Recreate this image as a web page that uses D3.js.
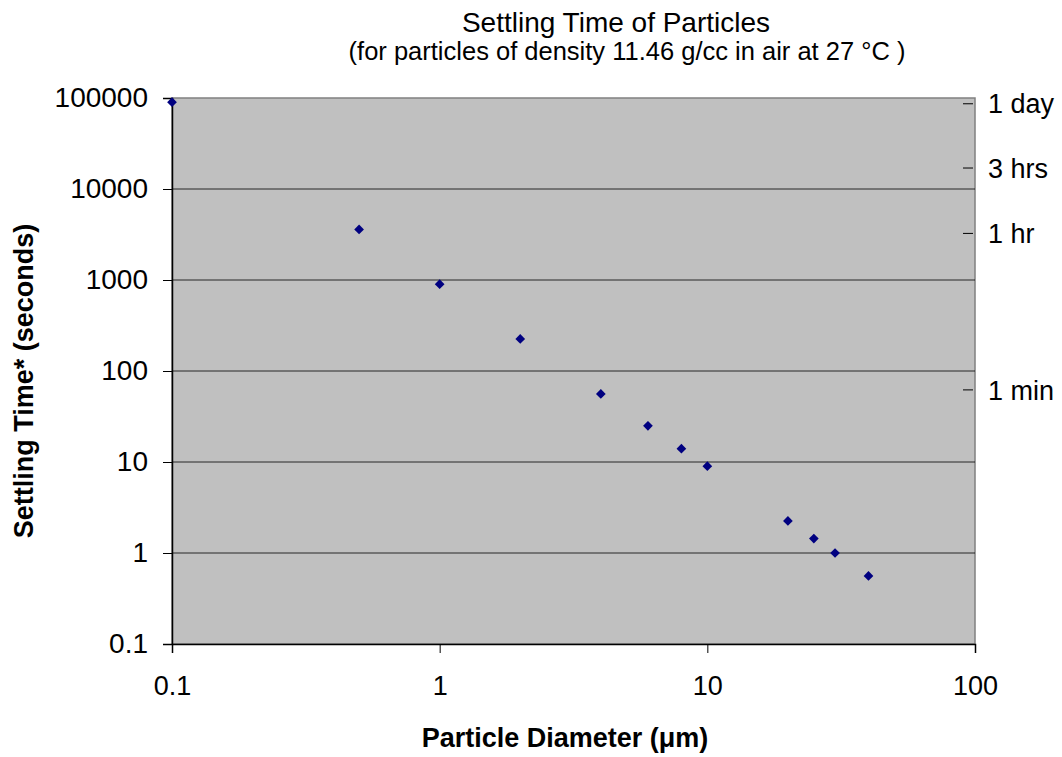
<!DOCTYPE html>
<html>
<head>
<meta charset="utf-8">
<script src="https://cdn.jsdelivr.net/npm/d3@7"></script>
<style>
  body { margin: 0; background: #fff; }
  text { font-family: Arial, "Liberation Sans", sans-serif; }
</style>
</head>
<body>
<script>
// data
var diameters = [0.1, 0.5, 1, 2, 4, 6, 8, 10, 20, 25, 30, 40];
var settleTimes = [90000, 3600, 900, 225, 56, 25, 14, 9, 2.25, 1.44, 1, 0.56];
var xTicks = [0.1, 1, 10, 100];
var yTicks = [0.1, 1, 10, 100, 1000, 10000, 100000];
var timeMarks = [86400, 17000, 3250, 62];
var timeLabels = ["1 day", "3 hrs", "1 hr", "1 min"];

var w = 1062, h = 757;
var plotL = 172, plotR = 975, plotT = 98, plotB = 644;

var svg = d3.select('body')
            .append('svg')
            .attr('width', w)
            .attr('height', h);

var x = d3.scaleLog().domain([0.1, 100]).range([plotL, plotR]);
var y = d3.scaleLog().domain([0.1, 100000]).range([plotB, plotT]);

// plot background
svg.append('rect')
   .attr('x', plotL).attr('y', plotT)
   .attr('width', plotR - plotL).attr('height', plotB - plotT)
   .attr('fill', '#c0c0c0')
   .attr('stroke', '#808080')
   .attr('stroke-width', 1.5);

// horizontal gridlines
svg.selectAll('line.grid')
   .data(yTicks.slice(1, -1))
   .enter().append('line')
   .attr('class', 'grid')
   .attr('x1', plotL).attr('x2', plotR)
   .attr('y1', function(d){ return y(d); })
   .attr('y2', function(d){ return y(d); })
   .attr('stroke', '#000')
   .attr('stroke-width', 0.8);

// left axis
var yAxis = d3.axisLeft(y)
              .tickValues(yTicks)
              .tickSize(9)
              .tickFormat(function(d){ return d < 1 ? '0.1' : d3.format('d')(d); });
var gy = svg.append('g')
            .attr('transform', 'translate(' + plotL + ',0)')
            .call(yAxis);
gy.select('.domain').attr('stroke', '#000').attr('stroke-width', 1.5);
gy.selectAll('.tick line').attr('stroke', '#000');
gy.selectAll('.tick text')
  .attr('x', -24)
  .attr('font-size', 28)
  .attr('font-family', 'Arial, "Liberation Sans", sans-serif')
  .attr('fill', '#000');

// bottom axis
var xAxis = d3.axisBottom(x)
              .tickValues(xTicks)
              .tickSize(9)
              .tickFormat(function(d){ return d < 1 ? '0.1' : d3.format('d')(d); });
var gx = svg.append('g')
            .attr('transform', 'translate(0,' + plotB + ')')
            .call(xAxis);
gx.select('.domain').attr('stroke', '#000').attr('stroke-width', 1.5);
gx.selectAll('.tick line').attr('stroke', '#000');
gx.selectAll('.tick text')
  .attr('y', 32)
  .attr('font-size', 27)
  .attr('font-family', 'Arial, "Liberation Sans", sans-serif')
  .attr('fill', '#000');

// right side time marks
var gr = svg.append('g');
gr.selectAll('line')
  .data(timeMarks)
  .enter().append('line')
  .attr('x1', plotR - 12).attr('x2', plotR - 2)
  .attr('y1', function(d){ return y(d); })
  .attr('y2', function(d){ return y(d); })
  .attr('stroke', '#000')
  .attr('stroke-width', 1);
gr.selectAll('text')
  .data(timeMarks)
  .enter().append('text')
  .attr('x', plotR + 13)
  .attr('y', function(d){ return y(d); })
  .attr('dy', '0.36em')
  .attr('font-size', 27)
  .text(function(d, i){ return timeLabels[i]; });

// points
svg.selectAll('path.pt')
   .data(diameters)
   .enter().append('path')
   .attr('class', 'pt')
   .attr('d', d3.symbol().type(d3.symbolDiamond2).size(60))
   .attr('transform', function(d, i){ return 'translate(' + x(d) + ',' + y(settleTimes[i]) + ')'; })
   .attr('fill', '#000080');

// titles
svg.append('text')
   .attr('x', 616).attr('y', 32)
   .attr('text-anchor', 'middle')
   .attr('font-size', 28)
   .text('Settling Time of Particles');

svg.append('text')
   .attr('x', 627).attr('y', 60)
   .attr('text-anchor', 'middle')
   .attr('font-size', 25.5)
   .text('(for particles of density 11.46 g/cc in air at 27 °C )');

svg.append('text')
   .attr('x', 565).attr('y', 747)
   .attr('text-anchor', 'middle')
   .attr('font-size', 27)
   .attr('font-weight', 'bold')
   .text('Particle Diameter (μm)');

svg.append('text')
   .attr('transform', 'translate(33,381) rotate(-90)')
   .attr('text-anchor', 'middle')
   .attr('font-size', 27)
   .attr('font-weight', 'bold')
   .text('Settling Time* (seconds)');
</script>
</body>
</html>
